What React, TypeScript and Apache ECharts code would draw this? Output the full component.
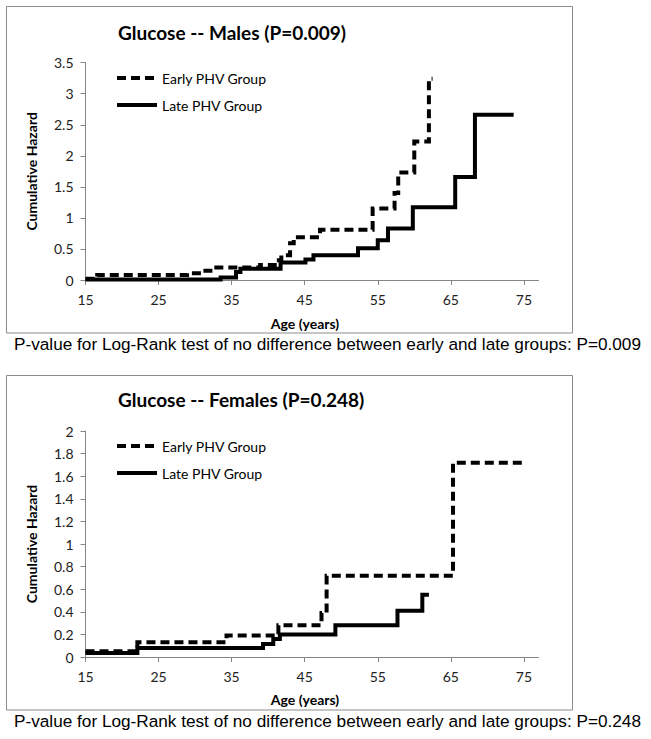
import React, { useEffect, useRef } from "react";
import * as echarts from "echarts";

// ---------- data ----------
const seriesNames = ["Early PHV Group", "Late PHV Group"];
const chartTitles = ["Glucose -- Males (P=0.009)", "Glucose -- Females (P=0.248)"];
const pValueNotes = [
  "P-value for Log-Rank test of no difference between early and late groups: P=0.009",
  "P-value for Log-Rank test of no difference between early and late groups: P=0.248",
];
const xAxisTitle = "Age (years)";
const yAxisTitle = "Cumulative Hazard";
const xTickValues = [15, 25, 35, 45, 55, 65, 75];

// Males
const malesEarlyAge = [15, 16.6, 28.9, 31.1, 32.1, 38.9, 40.9, 41.8, 43.0, 43.5, 47.1, 54.3, 57.3, 57.8, 60.0, 62.0, 62.5];
const malesEarlyHaz = [0.02, 0.08, 0.11, 0.15, 0.2, 0.24, 0.32, 0.4, 0.59, 0.69, 0.81, 1.15, 1.4, 1.73, 2.23, 3.24, 3.24];
const malesLateAge = [15, 33.5, 35.6, 36.2, 41.7, 45.1, 46.2, 52.3, 55.0, 56.4, 59.8, 65.6, 68.3, 73.6];
const malesLateHaz = [0.01, 0.04, 0.13, 0.18, 0.28, 0.33, 0.4, 0.51, 0.64, 0.83, 1.17, 1.66, 2.66, 2.66];

// Females
const femalesEarlyAge = [15, 22.1, 34.3, 41.4, 47.3, 48.0, 65.3, 74.8];
const femalesEarlyHaz = [0.05, 0.13, 0.19, 0.28, 0.39, 0.72, 1.72, 1.72];
const femalesLateAge = [15, 22.1, 39.3, 40.7, 41.6, 49.2, 57.7, 61.1, 62.0];
const femalesLateHaz = [0.035, 0.08, 0.115, 0.16, 0.2, 0.28, 0.41, 0.55, 0.55];

const pairs = (a: number[], b: number[]) => a.map((x, i) => [x, b[i]]);

const FONT = "Lato, 'Open Sans', sans-serif";
const AXIS_GRAY = "#868686";

export default function App() {
  const ref = useRef<HTMLDivElement>(null);

  useEffect(() => {
    if (!ref.current) return;
    const chart = echarts.init(ref.current, undefined, { renderer: "svg" });

    const grids = [
      { left: 85.5, top: 62.7, width: 453, height: 217.3 },
      { left: 85.5, top: 431, width: 453, height: 226 },
    ];
    const yMax = [3.5, 2];
    const yInt = [0.5, 0.2];

    const xAxes = grids.map((_, i) => ({
      type: "value",
      gridIndex: i,
      min: 15,
      max: 77,
      interval: 10,
      splitLine: { show: false },
      axisLine: { show: true, lineStyle: { color: AXIS_GRAY, width: 1 } },
      axisTick: { show: true, length: 5, lineStyle: { color: AXIS_GRAY }, customValues: xTickValues },
      axisLabel: {
        customValues: xTickValues,
        margin: 12,
        fontFamily: FONT,
        fontSize: 14,
        color: "#222",
      },
    }));

    const yAxes = grids.map((_, i) => ({
      type: "value",
      gridIndex: i,
      min: 0,
      max: yMax[i],
      interval: yInt[i],
      name: yAxisTitle,
      nameLocation: "middle",
      nameGap: 47,
      nameTextStyle: { fontFamily: FONT, fontWeight: "bold", fontSize: 14, color: "#000" },
      splitLine: { show: false },
      axisLine: { show: true, lineStyle: { color: AXIS_GRAY, width: 1 } },
      axisTick: { show: true, length: 5, lineStyle: { color: AXIS_GRAY } },
      axisLabel: { margin: 12, fontFamily: FONT, fontSize: 14, color: "#222" },
    }));

    const lineBase = { width: 4, color: "#000", cap: "butt", join: "miter" };
    const mk = (name: string, idx: number, data: number[][], dashed: boolean) => ({
      type: "line",
      name,
      xAxisIndex: idx,
      yAxisIndex: idx,
      data,
      step: "end",
      symbol: "none",
      showSymbol: false,
      color: "#000",
      lineStyle: { ...lineBase, type: dashed ? [9, 5] : "solid" },
      z: dashed ? 3 : 2,
    });

    const series = [
      mk(seriesNames[0], 0, pairs(malesEarlyAge, malesEarlyHaz), true),
      mk(seriesNames[1], 0, pairs(malesLateAge, malesLateHaz), false),
      mk(seriesNames[0], 1, pairs(femalesEarlyAge, femalesEarlyHaz), true),
      mk(seriesNames[1], 1, pairs(femalesLateAge, femalesLateHaz), false),
    ];

    const legendTops = [71, 439];
    const legends = legendTops.map((t) => ({
      data: seriesNames,
      orient: "vertical",
      left: 115,
      top: t,
      itemWidth: 40,
      itemHeight: 14,
      itemGap: 13,
      selectedMode: false,
      padding: 0,
      lineStyle: { width: 4 },
      itemStyle: { color: "rgba(0,0,0,0)", borderWidth: 0, opacity: 0 },
      textStyle: { fontFamily: FONT, fontSize: 14, color: "#000" },
    }));

    const boxes = [
      { y: 6.5, h: 326.5 },
      { y: 375.5, h: 334.5 },
    ];
    const titleY = [32, 399];
    const ageTitleY = [323, 699];
    const pNoteY = [344, 721];

    const graphic: any[] = [];
    boxes.forEach((b) => {
      graphic.push({
        type: "rect",
        shape: { x: 6.5, y: b.y, width: 566, height: b.h },
        style: { fill: "none", stroke: "#8c8c8c", lineWidth: 1 },
        silent: true,
        z: 0,
      });
    });
    chartTitles.forEach((t, i) => {
      graphic.push({
        type: "text",
        style: {
          x: 118,
          y: titleY[i],
          text: t,
          fontFamily: FONT,
          fontWeight: "bold",
          fontSize: 19,
          fill: "#000",
          verticalAlign: "middle",
        },
      });
      graphic.push({
        type: "text",
        style: {
          x: 305,
          y: ageTitleY[i],
          text: xAxisTitle,
          fontFamily: FONT,
          fontWeight: "bold",
          fontSize: 14,
          fill: "#000",
          align: "center",
          verticalAlign: "middle",
        },
      });
    });
    pValueNotes.forEach((t, i) => {
      graphic.push({
        type: "text",
        style: {
          x: 14,
          y: pNoteY[i],
          text: t,
          fontFamily: "'Liberation Sans', Arial, sans-serif",
          fontSize: 17.2,
          fill: "#000",
          verticalAlign: "middle",
        },
      });
    });

    chart.setOption({
      animation: false,
      backgroundColor: "#fff",
      grid: grids.map((g) => ({ ...g, containLabel: false, outerBoundsMode: "none" })),
      xAxis: xAxes,
      yAxis: yAxes,
      legend: legends,
      series,
      graphic,
    } as any);

    return () => chart.dispose();
  }, []);

  return (
    <div
      ref={ref}
      style={{ position: "absolute", left: 0, top: 0, width: 651, height: 739, background: "#fff" }}
    />
  );
}
